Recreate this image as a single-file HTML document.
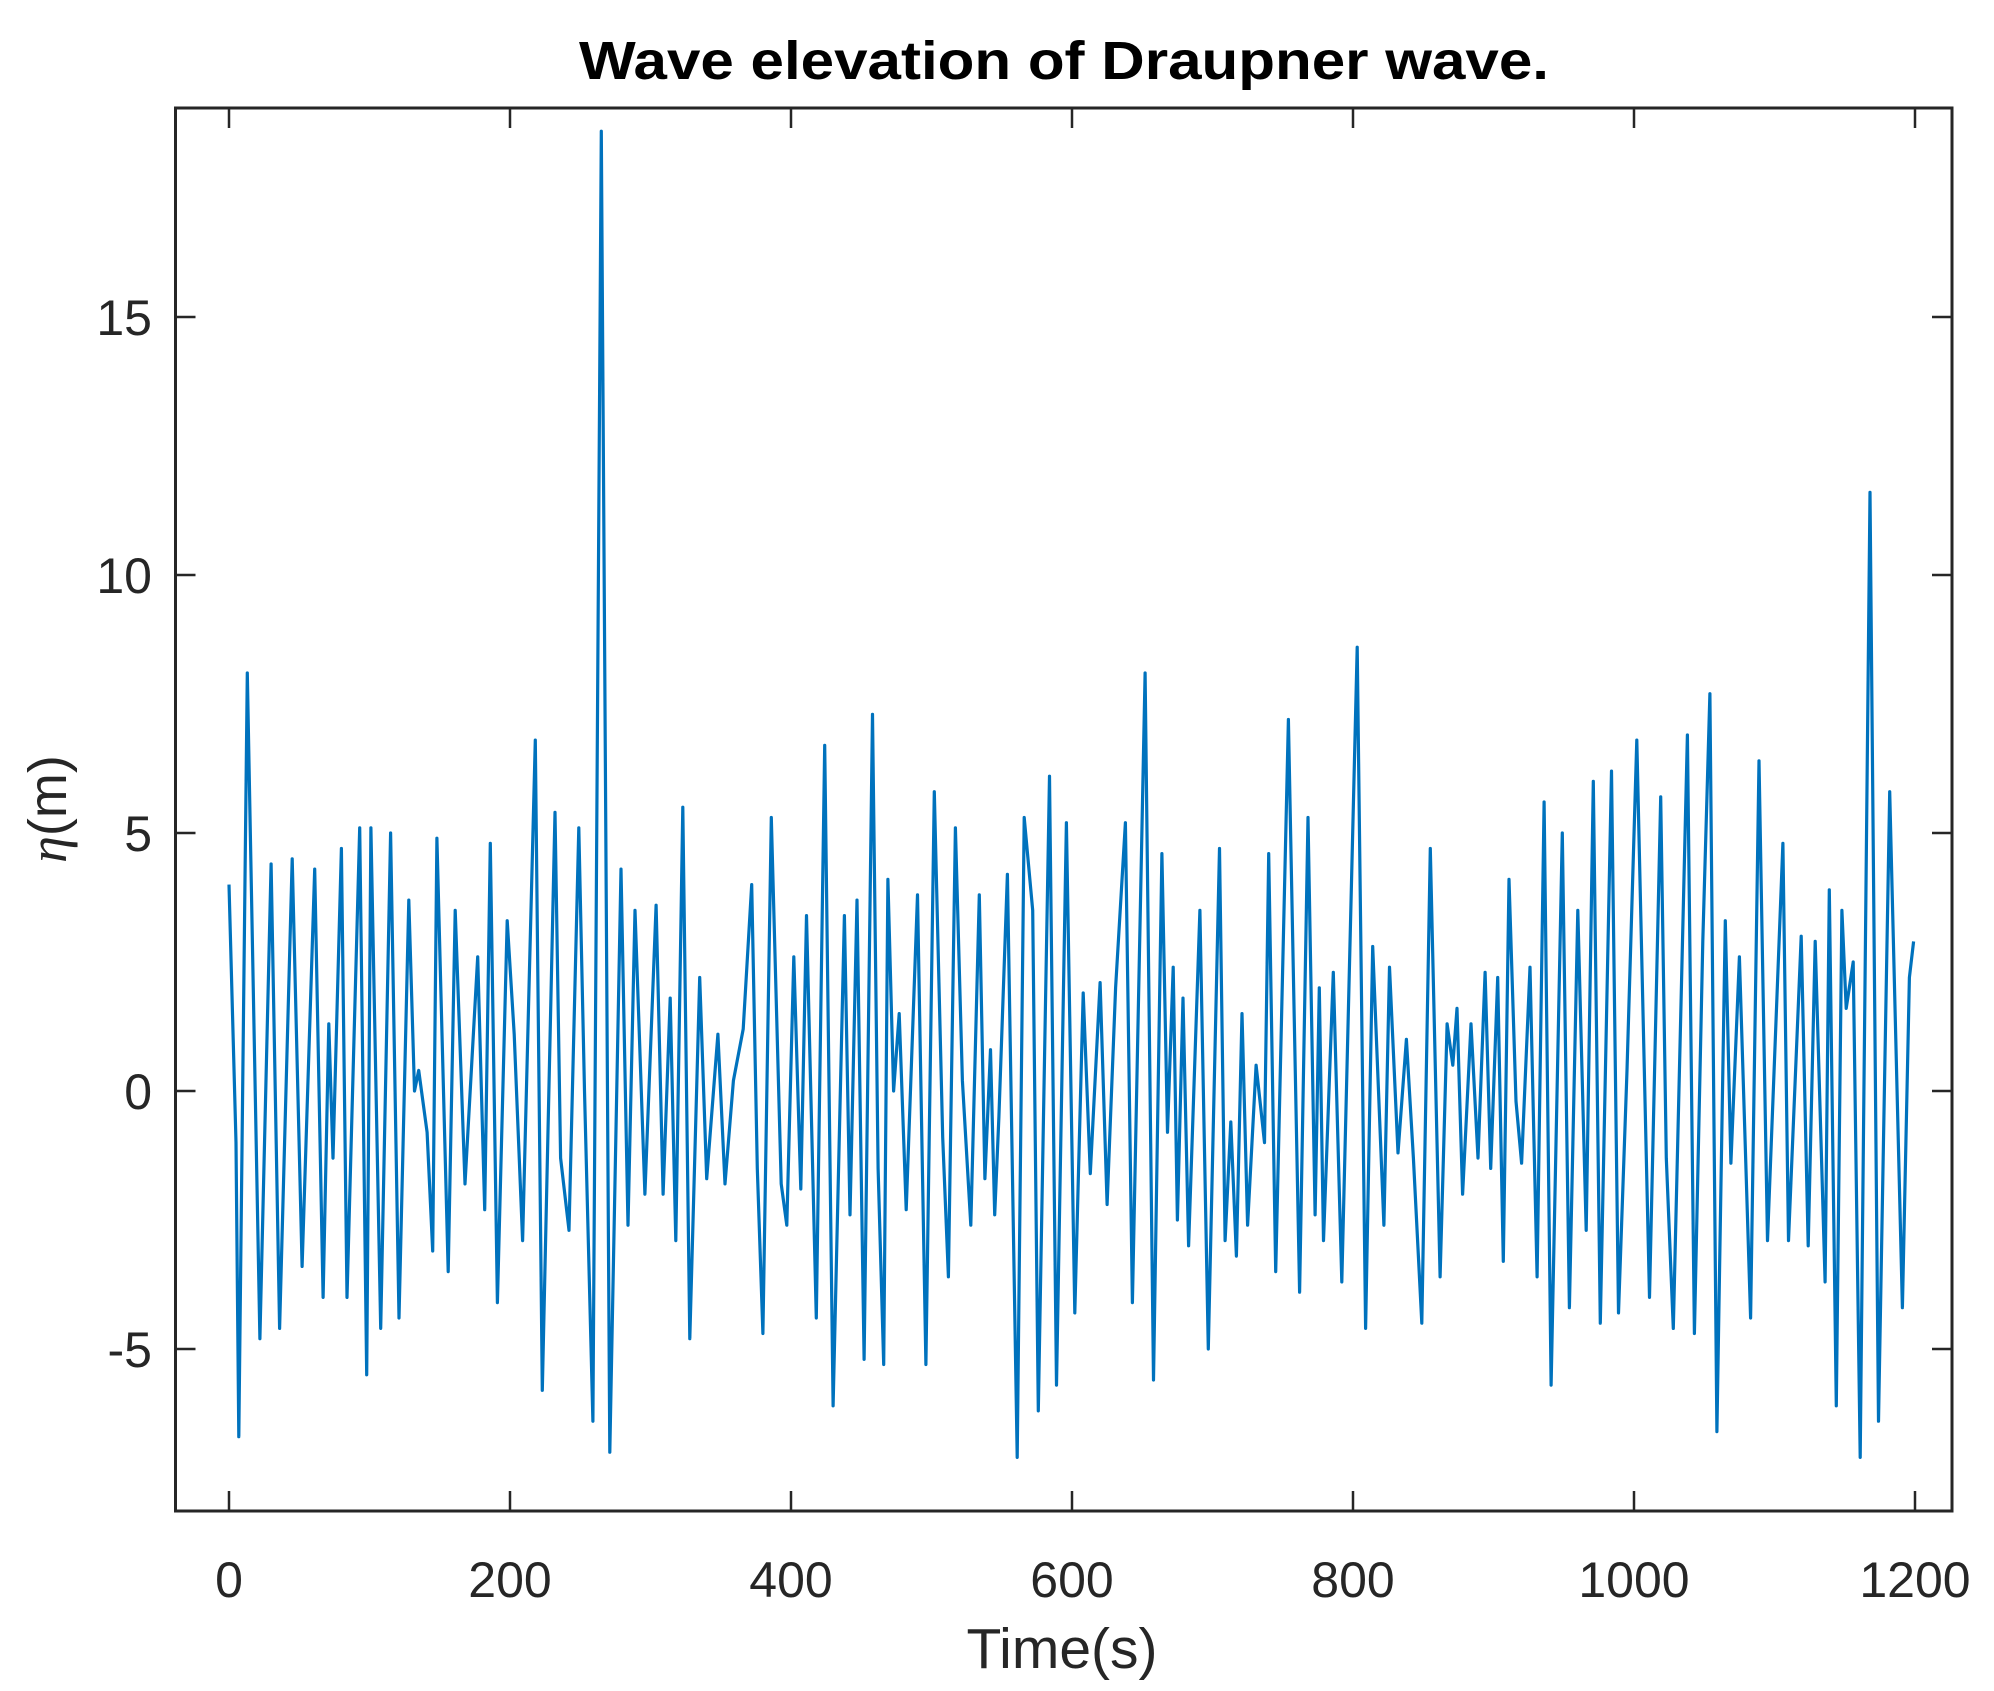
<!DOCTYPE html>
<html><head><meta charset="utf-8"><style>
html,body{margin:0;padding:0;background:#fff;}
svg{display:block;}
text{font-family:"Liberation Sans",Arial,sans-serif;fill:#262626;}
</style></head><body>
<svg id="chart" width="1994" height="1691" viewBox="0 0 1994 1691">
<rect x="0" y="0" width="1994" height="1691" fill="#fff"/>
<text x="1064" y="79" text-anchor="middle" font-size="54" font-weight="bold" style="fill:#000" textLength="970" lengthAdjust="spacingAndGlyphs">Wave elevation of Draupner wave.</text>
<g id="plot"></g>
<g id="axes"></g>
<text x="1062" y="1668" text-anchor="middle" font-size="57">Time(s)</text>
<text transform="translate(66,809) rotate(-90)" text-anchor="middle" font-size="54"><tspan font-style="italic" font-family="'Liberation Serif',serif">η</tspan>(m)</text>
</svg>
<script>
const times = [0,5,7,13,22,30,36,45,52,61,67,71,74,80,84,93,98,101,108,115,121,128,132,135,141,145,148,156,161,168,177,182,186,191,198,203,209,218,223,232,236,242,249,253,259,265,271,279,284,289,296,304,309,314,318,323,328,335,340,348,353,359,366,372,376,380,386,393,397,402,407,411,418,424,430,438,442,447,452,458,462,466,469,473,477,482,490,496,502,508,512,517,522,528,534,538,542,545,548,554,561,566,572,576,584,589,596,602,608,613,620,625,631,638,643,652,658,664,668,672,675,679,683,691,697,705,709,713,717,721,725,731,737,740,745,754,762,768,773,776,779,786,792,803,809,814,822,826,832,838,843,849,855,862,867,871,874,878,884,889,894,898,903,907,911,916,920,926,931,936,941,949,954,960,966,971,976,984,989,995,1002,1011,1019,1023,1028,1038,1043,1049,1054,1059,1065,1069,1075,1083,1089,1095,1106,1110,1119,1124,1129,1136,1139,1144,1148,1151,1156,1161,1168,1174,1182,1191,1196,1199];
const elevation = [4.0,-1,-6.7,8.1,-4.8,4.4,-4.6,4.5,-3.4,4.3,-4.0,1.3,-1.3,4.7,-4.0,5.1,-5.5,5.1,-4.6,5.0,-4.4,3.7,0.0,0.4,-0.8,-3.1,4.9,-3.5,3.5,-1.8,2.6,-2.3,4.8,-4.1,3.3,1.1,-2.9,6.8,-5.8,5.4,-1.3,-2.7,5.1,0,-6.4,18.6,-7.0,4.3,-2.6,3.5,-2.0,3.6,-2.0,1.8,-2.9,5.5,-4.8,2.2,-1.7,1.1,-1.8,0.2,1.2,4.0,-1.5,-4.7,5.3,-1.8,-2.6,2.6,-1.9,3.4,-4.4,6.7,-6.1,3.4,-2.4,3.7,-5.2,7.3,-1.5,-5.3,4.1,0.0,1.5,-2.3,3.8,-5.3,5.8,-0.9,-3.6,5.1,0.2,-2.6,3.8,-1.7,0.8,-2.4,-0.5,4.2,-7.1,5.3,3.5,-6.2,6.1,-5.7,5.2,-4.3,1.9,-1.6,2.1,-2.2,2.0,5.2,-4.1,8.1,-5.6,4.6,-0.8,2.4,-2.5,1.8,-3.0,3.5,-5.0,4.7,-2.9,-0.6,-3.2,1.5,-2.6,0.5,-1.0,4.6,-3.5,7.2,-3.9,5.3,-2.4,2.0,-2.9,2.3,-3.7,8.6,-4.6,2.8,-2.6,2.4,-1.2,1.0,-1.3,-4.5,4.7,-3.6,1.3,0.5,1.6,-2.0,1.3,-1.3,2.3,-1.5,2.2,-3.3,4.1,-0.2,-1.4,2.4,-3.6,5.6,-5.7,5.0,-4.2,3.5,-2.7,6.0,-4.5,6.2,-4.3,0.4,6.8,-4.0,5.7,-1.3,-4.6,6.9,-4.7,2.9,7.7,-6.6,3.3,-1.4,2.6,-4.4,6.4,-2.9,4.8,-2.9,3.0,-3.0,2.9,-3.7,3.9,-6.1,3.5,1.6,2.5,-7.1,11.6,-6.4,5.8,-4.2,2.2,2.9];
const xTicks = [0,200,400,600,800,1000,1200];
const yTicks = [-5,0,5,10,15];

const L=175.5,R=1952,T=108,B=1511;
function xs(t){return 229+(t-0)*(1915-229)/1200;}
function ys(v){return 1091-v*(1091-833)/5;}
const NS="http://www.w3.org/2000/svg";
const plot=document.getElementById('plot');
const axes=document.getElementById('axes');
let d="";
for(let i=0;i<times.length;i++){d+=(i?"L":"M")+xs(times[i]).toFixed(1)+","+ys(elevation[i]).toFixed(1);}
const line=document.createElementNS(NS,'path');
line.setAttribute('d',d);
line.setAttribute('fill','none');
line.setAttribute('stroke','#0072BD');
line.setAttribute('stroke-width','3.2');
line.setAttribute('stroke-linejoin','round');


plot.appendChild(line);

const box=document.createElementNS(NS,'rect');
box.setAttribute('x',L);box.setAttribute('y',T);box.setAttribute('width',R-L);box.setAttribute('height',B-T);
box.setAttribute('fill','none');box.setAttribute('stroke','#262626');box.setAttribute('stroke-width','3');


axes.appendChild(box);

function tick(x1,y1,x2,y2,name){
 const l=document.createElementNS(NS,'line');
 l.setAttribute('x1',x1);l.setAttribute('y1',y1);l.setAttribute('x2',x2);l.setAttribute('y2',y2);
 l.setAttribute('stroke','#262626');l.setAttribute('stroke-width','2.5');
 
 
 axes.appendChild(l);
}
xTicks.forEach(v=>{
 const x=xs(v);
 tick(x,B,x,B-20,'x-tick');
 tick(x,T,x,T+20,'x-tick-top');
 const t=document.createElementNS(NS,'text');
 t.setAttribute('x',x);t.setAttribute('y',1597);t.setAttribute('text-anchor','middle');t.setAttribute('font-size','50');
 t.textContent=v;
 
 
 axes.appendChild(t);
});
yTicks.forEach(v=>{
 const y=ys(v);
 tick(L,y,L+20,y,'y-tick');
 tick(R,y,R-20,y,'y-tick-right');
 const t=document.createElementNS(NS,'text');
 t.setAttribute('x',152);t.setAttribute('y',y+18);t.setAttribute('text-anchor','end');t.setAttribute('font-size','50');
 t.textContent=v;
 
 
 axes.appendChild(t);
});
</script>
</body></html>
